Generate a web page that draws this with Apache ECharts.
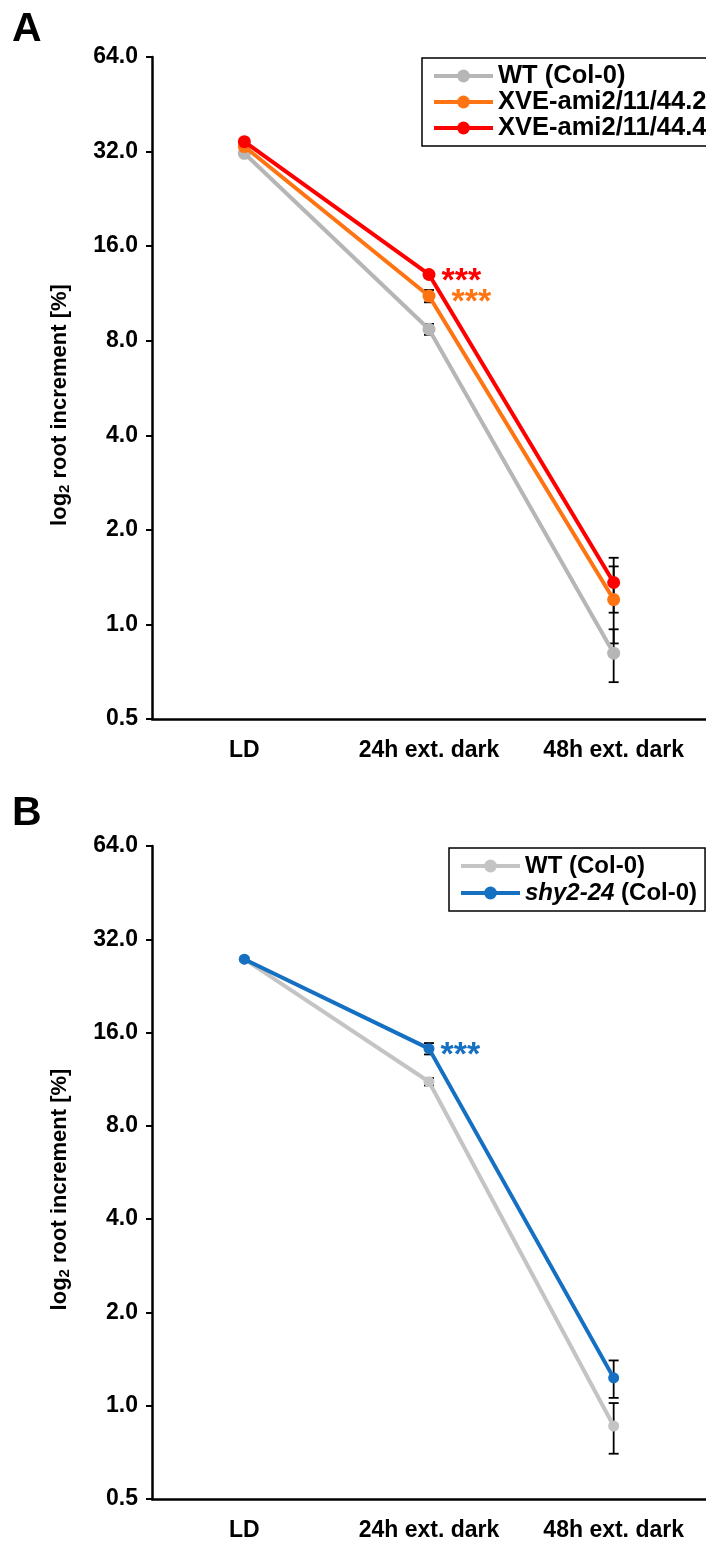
<!DOCTYPE html>
<html>
<head>
<meta charset="utf-8">
<script src="https://cdn.jsdelivr.net/npm/echarts@6/dist/echarts.min.js"></script>
<style>html,body{margin:0;padding:0;background:#fff;}#c{width:706px;height:1542px;}</style>
</head>
<body>
<div id="c"></div>
<script>
// ---- data ----
var categories = ['LD', '24h ext. dark', '48h ext. dark'];
// Panel A
var wtA = [31.6, 8.7, 0.81];
var wtAErr = [0.5, 0.35, 0.155];
var ami2A = [33.2, 11.1, 1.2];
var ami2AErr = [0.5, 0.5, 0.33];
var ami4A = [34.4, 13.0, 1.36];
var ami4AErr = [0.5, 0.3, 0.27];
// Panel B
var wtB = [27.6, 11.1, 0.86];
var wtBErr = [0.3, 0.3, 0.16];
var shyB = [27.6, 14.2, 1.23];
var shyBErr = [0.3, 0.6, 0.17];
var sigLabel = '***';

var FONT = '"Liberation Sans", Arial, sans-serif';
var cGray = '#b6b6b6', cGrayB = '#c4c4c4', cOrange = '#ff7412', cRed = '#ff0000', cBlue = '#1570c2';

function errData(vals, errs) {
  return vals.map(function (v, i) { return [i, v - errs[i], v + errs[i]]; });
}
function errSeries(name, gi, vals, errs) {
  return {
    type: 'custom', name: name + '_err', xAxisIndex: gi, yAxisIndex: gi, z: 1,
    silent: true, legendHoverLink: false,
    data: errData(vals, errs),
    renderItem: function (params, api) {
      var x = api.value(0);
      var lo = api.coord([x, api.value(1)]);
      var hi = api.coord([x, api.value(2)]);
      var w = 5;
      var st = { stroke: '#000', lineWidth: 1.8 };
      return { type: 'group', children: [
        { type: 'line', shape: { x1: lo[0], y1: lo[1], x2: hi[0], y2: hi[1] }, style: st },
        { type: 'line', shape: { x1: lo[0] - w, y1: lo[1], x2: lo[0] + w, y2: lo[1] }, style: st },
        { type: 'line', shape: { x1: hi[0] - w, y1: hi[1], x2: hi[0] + w, y2: hi[1] }, style: st }
      ]};
    }
  };
}
function lineSeries(name, gi, vals, color, size, z, sig, sigOff) {
  var data = vals.map(function (v, i) {
    if (sig && i === 1) {
      return { value: v, label: { show: true, formatter: sigLabel, position: 'right', distance: 0,
        offset: [sigOff, 7], color: color, fontSize: 34, fontWeight: 'bold', fontFamily: FONT } };
    }
    return v;
  });
  return {
    type: 'line', name: name, xAxisIndex: gi, yAxisIndex: gi, z: z,
    data: data, symbol: 'circle', symbolSize: size,
    lineStyle: { color: color, width: 4 }, itemStyle: { color: color },
    emphasis: { disabled: true }, animation: false
  };
}
function xAxis(gi) {
  return {
    type: 'category', gridIndex: gi, data: categories, boundaryGap: true,
    axisLine: { lineStyle: { color: '#000', width: 2.5 } },
    axisTick: { alignWithLabel: true, length: 8, lineStyle: { color: '#000', width: 2 } },
    axisLabel: { color: '#000', fontSize: 23, fontWeight: 'bold', fontFamily: FONT, margin: 20 }
  };
}
function yAxis(gi) {
  return {
    type: 'log', logBase: 2, gridIndex: gi, min: 0.5, max: 64, interval: 1,
    name: '{a|log}{s|2}{a| root increment [%]}', nameLocation: 'middle', nameRotate: 90, nameGap: 80,
    nameTextStyle: { padding: [0, 34, 0, 0], rich: {
      a: { fontSize: 22, fontWeight: 'bold', fontFamily: FONT, color: '#000' },
      s: { fontSize: 15, fontWeight: 'bold', fontFamily: FONT, color: '#000', verticalAlign: 'bottom', padding: [10, 0, 0, 0] }
    }},
    axisLine: { show: true, lineStyle: { color: '#000', width: 2.5 } },
    axisTick: { show: true, length: 6, lineStyle: { color: '#000', width: 2 } },
    splitLine: { show: false }, minorTick: { show: false },
    axisLabel: { color: '#000', fontSize: 23, fontWeight: 'bold', fontFamily: FONT, margin: 14,
      formatter: function (v) { return v.toFixed(1); } }
  };
}
function legend(top, left, names, rowH, fs) {
  return {
    top: top, left: left, orient: 'vertical', data: names,
    itemWidth: 59, itemHeight: 16, itemGap: rowH - 26,
    borderColor: '#000', borderWidth: 1.5, padding: [5, 8, 5, 10], borderRadius: 0,
    lineStyle: { width: 4 },
    textStyle: { fontSize: fs, fontWeight: 'bold', fontFamily: FONT, color: '#000', lineHeight: 26,
      rich: { i: { fontSize: fs, fontWeight: 'bold', fontStyle: 'italic', fontFamily: FONT, color: '#000', lineHeight: 26 },
              n: { fontSize: fs, fontWeight: 'bold', fontFamily: FONT, color: '#000', lineHeight: 26 } } },
    formatter: function (n) {
      if (n.indexOf('shy2-24') === 0) return '{i|shy2-24}{n| (Col-0)}';
      return n;
    },
    selectedMode: false
  };
}

var chart = echarts.init(document.getElementById('c'), null, { renderer: 'canvas' });
chart.setOption({
  animation: false,
  backgroundColor: '#fff',
  title: [
    { text: 'A', left: 7, top: 4, textStyle: { fontSize: 41, fontWeight: 'bold', fontFamily: FONT, color: '#000' } },
    { text: 'B', left: 7, top: 788, textStyle: { fontSize: 41, fontWeight: 'bold', fontFamily: FONT, color: '#000' } }
  ],
  grid: [
    { left: 152, top: 57, width: 560, height: 662 },
    { left: 152, top: 846, width: 560, height: 653 }
  ],
  xAxis: [xAxis(0), xAxis(1)],
  yAxis: [yAxis(0), yAxis(1)],
  legend: [
    legend(58, 422, ['WT (Col-0)', 'XVE-ami2/11/44.2', 'XVE-ami2/11/44.4'], 26, 25.5),
    legend(848, 449, ['WT (Col-0) ', 'shy2-24 (Col-0)'], 27, 24)
  ],
  series: [
    errSeries('wtA', 0, wtA, wtAErr),
    errSeries('ami2A', 0, ami2A, ami2AErr),
    errSeries('ami4A', 0, ami4A, ami4AErr),
    lineSeries('WT (Col-0)', 0, wtA, cGray, 13, 2, false),
    lineSeries('XVE-ami2/11/44.2', 0, ami2A, cOrange, 13, 3, true, 16),
    lineSeries('XVE-ami2/11/44.4', 0, ami4A, cRed, 13, 4, true, 6),
    errSeries('wtB', 1, wtB, wtBErr),
    errSeries('shyB', 1, shyB, shyBErr),
    lineSeries('WT (Col-0) ', 1, wtB, cGrayB, 11, 2, false),
    lineSeries('shy2-24 (Col-0)', 1, shyB, cBlue, 11, 3, true, 6)
  ]
});
</script>
</body>
</html>
